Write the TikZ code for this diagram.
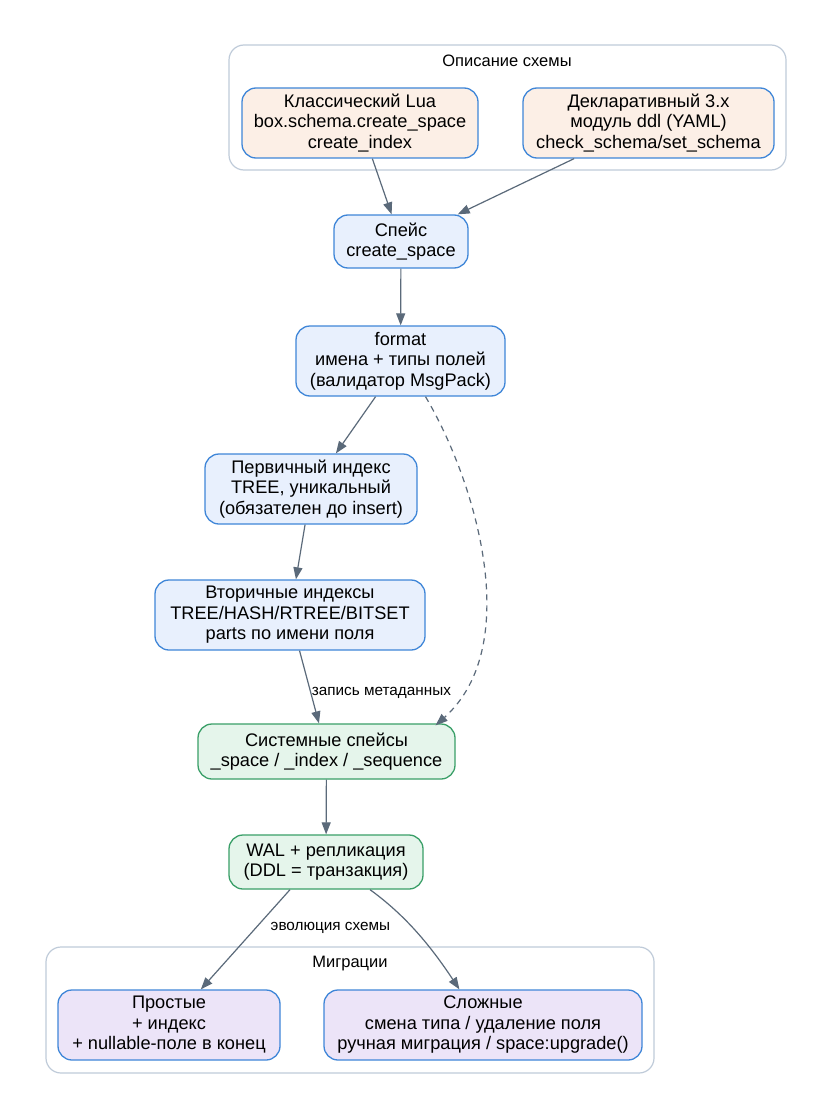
\documentclass[tikz,border=0pt]{standalone}
\usepackage{fontspec}
\setmainfont{Liberation Sans}
\usetikzlibrary{arrows.meta}
\definecolor{bluefill}{HTML}{E8F0FD}
\definecolor{blueline}{HTML}{3F86D8}
\definecolor{peachfill}{HTML}{FCEFE6}
\definecolor{greenfill}{HTML}{E5F5EB}
\definecolor{greenline}{HTML}{3A9F68}
\definecolor{purplefill}{HTML}{ECE4F8}
\definecolor{edgecol}{HTML}{5B6A7A}
\definecolor{clustercol}{HTML}{BFCBD9}
\tikzset{
  box/.style={draw=blueline, fill=bluefill, line width=1.3pt, rounded corners=14pt,
    inner sep=0pt, align=center, font=\fontsize{18.2}{20.5}\selectfont},
  peachbox/.style={box, fill=peachfill},
  greenbox/.style={box, draw=greenline, fill=greenfill},
  purplebox/.style={box, fill=purplefill},
  cluster/.style={draw=clustercol, line width=1.2pt, rounded corners=15pt, inner sep=0pt},
  clabel/.style={font=\fontsize{16.5}{18}\selectfont, inner sep=0pt},
  elabel/.style={font=\fontsize{15.3}{17}\selectfont, inner sep=1pt},
  edge/.style={draw=edgecol, line width=1.2pt, -{Triangle[length=12pt,width=9pt]}},
}
\begin{document}
\begin{tikzpicture}[x=1pt,y=-1pt]
\useasboundingbox (0,0) rectangle (831,1118);
\fill[white] (0,0) rectangle (831,1118);

% clusters
\node[cluster, minimum width=557pt, minimum height=125pt] (c1) at (507.5,107.5) {};
\node[clabel] (c1l) at (507,61) {Описание схемы};
\node[cluster, minimum width=608pt, minimum height=126pt] (c2) at (350,1010) {};
\node[clabel] (c2l) at (350,964) {Миграции};

% nodes
\node[peachbox, minimum width=236pt, minimum height=70pt] (A) at (360,123)
  {Классический Lua\\box.schema.create\_space\\create\_index};
\node[peachbox, minimum width=251pt, minimum height=70pt] (B) at (648.5,123)
  {Декларативный 3.x\\модуль ddl (YAML)\\check\_schema/set\_schema};
\node[box, minimum width=134pt, minimum height=53pt] (C) at (401,241.5)
  {Спейс\\create\_space};
\node[box, minimum width=209pt, minimum height=70pt] (D) at (400.5,361)
  {format\\имена + типы полей\\(валидатор MsgPack)};
\node[box, minimum width=212pt, minimum height=70pt] (E) at (311,489)
  {Первичный индекс\\TREE, уникальный\\(обязателен до insert)};
\node[box, minimum width=270pt, minimum height=70pt] (F) at (290,615)
  {Вторичные индексы\\TREE/HASH/RTREE/BITSET\\parts по имени поля};
\node[greenbox, minimum width=257pt, minimum height=55pt] (G) at (326.5,751.5)
  {Системные спейсы\\\_space / \_index / \_sequence};
\node[greenbox, minimum width=194pt, minimum height=54pt] (H) at (326,862)
  {WAL + репликация\\(DDL = транзакция)};
\node[purplebox, minimum width=222pt, minimum height=70pt] (I) at (169,1025)
  {Простые\\+ индекс\\+ nullable-поле в конец};
\node[purplebox, minimum width=318pt, minimum height=70pt] (J) at (483,1025)
  {Сложные\\смена типа / удаление поля\\ручная миграция / space:upgrade()};

% edges
\draw[edge] (A) -- (C);
\draw[edge] (B) -- (C);
\draw[edge] (C) -- (D);
\draw[edge] (D) -- (E);
\draw[edge, dashed, dash pattern=on 6pt off 5pt] ([xshift=25pt]D.south) .. controls (475,480) and (525,645) .. ([xshift=-20pt,yshift=-2pt]G.north east);
\draw[edge] (E) -- (F);
\draw[edge] (F) -- node[elabel, anchor=west, pos=0.5, xshift=1pt, yshift=-6pt] {запись метаданных} (G);
\draw[edge] (G) -- (H);
\draw[edge] ([xshift=-36pt]H.south) -- node[elabel, pos=0.38, anchor=west, xshift=13pt] {эволюция схемы} (I);
\draw[edge] ([xshift=44pt]H.south) .. controls (405,915) and (430,945) .. (J);
\end{tikzpicture}
\end{document}
